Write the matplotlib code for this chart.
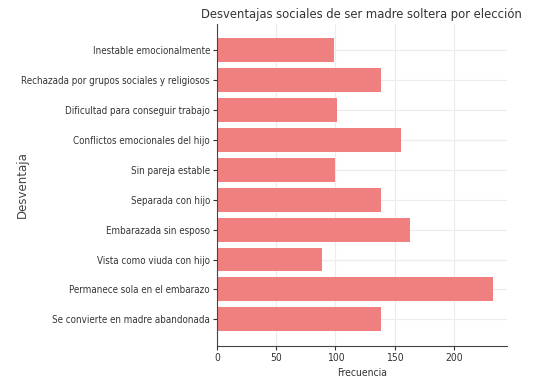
import matplotlib
matplotlib.use("Agg")
import matplotlib.pyplot as plt

# datos
desventajas = [
    "Inestable emocionalmente",
    "Rechazada por grupos sociales y religiosos",
    "Dificultad para conseguir trabajo",
    "Conflictos emocionales del hijo",
    "Sin pareja estable",
    "Separada con hijo",
    "Embarazada sin esposo",
    "Vista como viuda con hijo",
    "Permanece sola en el embarazo",
    "Se convierte en madre abandonada",
]
frecuencia = [99, 138, 101, 155, 100, 138, 163, 89, 233, 138]
xticks = [0, 50, 100, 150, 200]

plt.rcParams['font.family'] = ['DejaVu Sans']
plt.rcParams['font.stretch'] = 'condensed'

fig = plt.figure(figsize=(5.41, 3.78), dpi=100)
ax = fig.add_axes([0.401, 0.085, 0.536, 0.852])

ax.barh(desventajas, frecuencia, height=0.8, color="#F08080", zorder=2)
ax.invert_yaxis()

ax.set_xticks(xticks)
ax.grid(True, color="#ececec", linewidth=0.8, zorder=0)
ax.set_axisbelow(True)
for s in ["top", "right"]:
    ax.spines[s].set_visible(False)
for s in ["left", "bottom"]:
    ax.spines[s].set_color("#444444")
ax.tick_params(axis="both", labelsize=7.0, colors="#333333", length=3, pad=2)
ax.tick_params(axis="x", labelsize=7.5)

ax.set_title("Desventajas sociales de ser madre soltera por elección", fontsize=9.3, color="#333333", pad=4)
ax.set_xlabel("Frecuencia", fontsize=7.5, color="#333333", labelpad=4)
ax.set_ylabel("Desventaja", fontsize=8.5, color="#444444", fontstretch="normal")
ax.yaxis.set_label_coords(-0.648, 0.5)

fig.savefig("out.png", dpi=100)
